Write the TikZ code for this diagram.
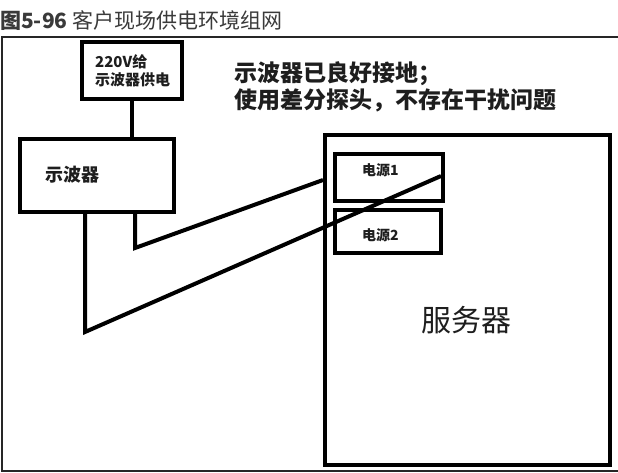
\documentclass[tikz,border=0pt]{standalone}
\usepackage{fontspec}
\newfontfamily\cjk{Noto Sans CJK SC}
\definecolor{titlegray}{HTML}{3A3A3A}
\definecolor{ink}{HTML}{1E1E1E}
\begin{document}
\begin{tikzpicture}[x=1pt,y=-1pt,
  box/.style={draw=black, line width=4pt, fill=white, inner sep=0pt, line join=miter},
  wire/.style={draw=black, line width=4pt, line join=miter},
  lbl/.style={inner sep=0pt, text=ink}]
\useasboundingbox (0,0) rectangle (618,473);
\fill[white] (0,0) rectangle (618,473);
\draw[line width=1.5pt, black!85] (619,37) -- (2,37) -- (2,471) -- (619,471);
\node[anchor=base west, inner sep=0pt, text=titlegray, font=\cjk\fontsize{21}{21}\selectfont] (title) at (0,29) {\textbf{图5-96} 客户现场供电环境组网};
% boxes
\node[box, minimum width=285pt, minimum height=330pt] (srv) at (467.5,300) {};
\node[box, minimum width=108pt, minimum height=47pt] (ps1) at (389,177.5) {};
\node[box, minimum width=106pt, minimum height=43pt] (ps2) at (388,231.5) {};
\node[box, minimum width=154pt, minimum height=73pt] (osc) at (97,175.5) {};
\node[box, minimum width=100pt, minimum height=57pt] (pwr) at (132,70.5) {};
% texts
\node[lbl, anchor=west, align=left, font=\cjk\bfseries\fontsize{15}{18}\selectfont] (pwrtxt) at (95,71) {220V给\\示波器供电};
\node[lbl, anchor=west, font=\cjk\bfseries\fontsize{18}{18}\selectfont] (osctxt) at (45,175) {示波器};
\node[lbl, anchor=west, font=\cjk\bfseries\fontsize{14}{14}\selectfont] (ps1txt) at (362,170) {电源1};
\node[lbl, anchor=west, font=\cjk\bfseries\fontsize{14}{14}\selectfont] (ps2txt) at (362,235) {电源2};
\node[lbl, font=\cjk\fontsize{30}{30}\selectfont] (srvtxt) at (466,320) {服务器};
\node[lbl, anchor=west, align=left, font=\cjk\bfseries\fontsize{23}{26.5}\selectfont] (note) at (234,87) {示波器已良好接地；\\使用差分探头，不存在干扰问题};
% connectors
\coordinate (a1) at (135,248);
\coordinate (a2) at (323,180);
\coordinate (b1) at (85,332);
\coordinate (b2) at (441,176);
\draw[wire] (pwr.south) -- (osc.north -| pwr.south);
\draw[wire] (osc.south -| a1) -- (a1) -- (a2);
\draw[wire] (osc.south -| b1) -- (b1) -- (b2);
\end{tikzpicture}
\end{document}
